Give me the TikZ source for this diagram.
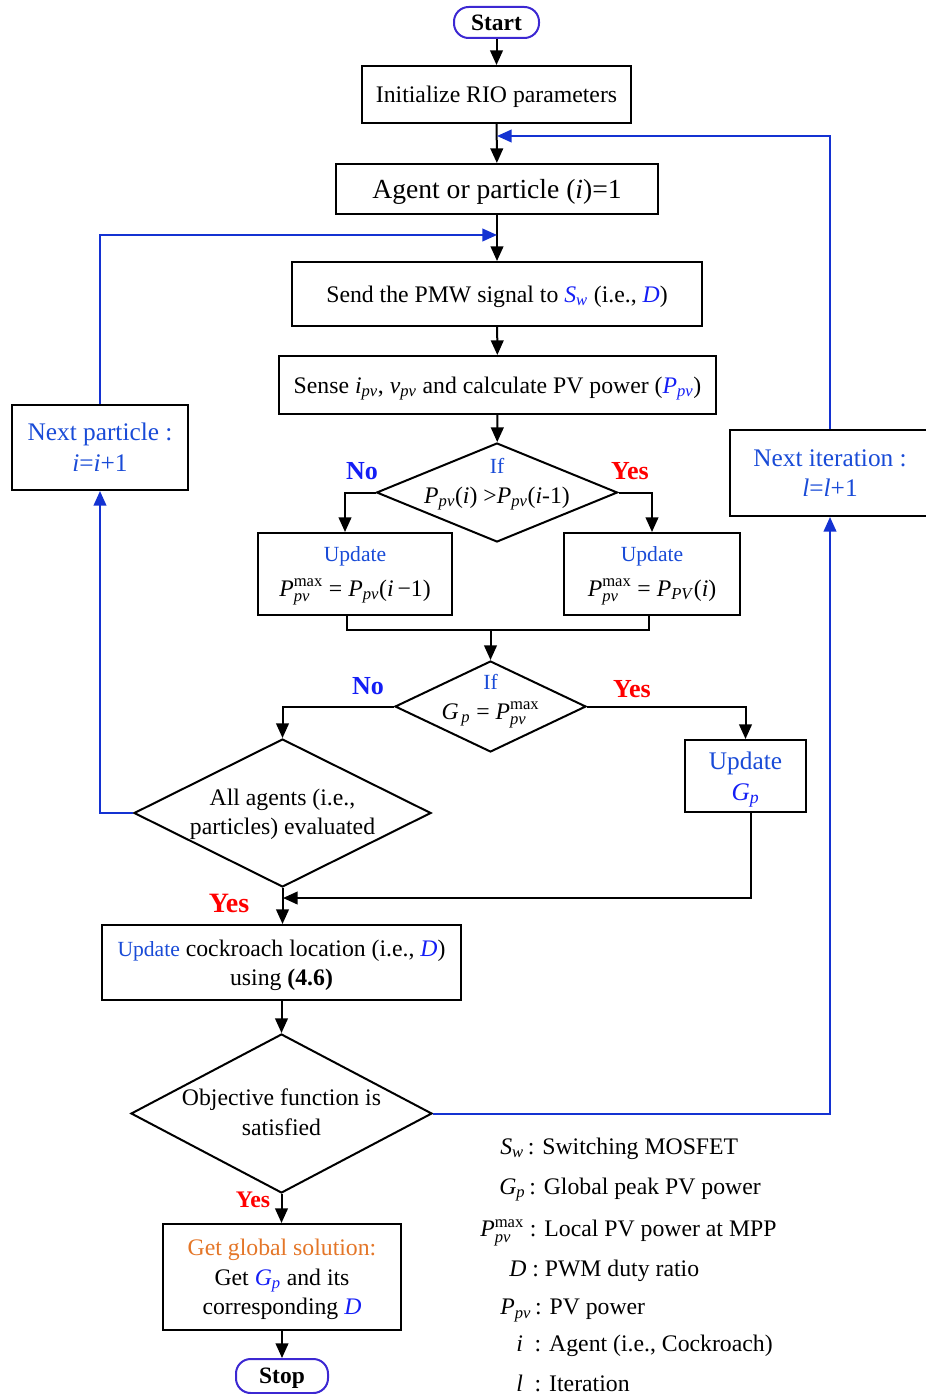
\documentclass[tikz,border=0pt]{standalone}
\usepackage{fontspec}
\setmainfont{Liberation Serif}
\usepackage{amsmath}
\usetikzlibrary{shapes.geometric,arrows.meta,calc}
\definecolor{tblue}{RGB}{25,75,215}
\definecolor{mblue}{RGB}{20,30,245}
\definecolor{lblue}{RGB}{20,50,210}
\definecolor{sblue}{RGB}{60,40,210}
\definecolor{ored}{RGB}{255,0,0}
\definecolor{orng}{RGB}{228,118,40}
\newcommand{\fsB}{\fontsize{17.8pt}{22pt}\selectfont}
\newcommand{\fsA}{\fontsize{20.7pt}{25pt}\selectfont}
\newcommand{\fsN}{\fontsize{19pt}{23pt}\selectfont}
\newcommand{\fsU}{\fontsize{16.2pt}{20pt}\selectfont}
\newcommand{\fsY}{\fontsize{19.5pt}{23pt}\selectfont}
\newcommand{\fsYY}{\fontsize{21pt}{25pt}\selectfont}
\newcommand{\fsS}{\fontsize{17.6pt}{21pt}\selectfont}
\newcommand{\Ppv}{\textit{P}\textsubscript{\textit{pv}}}
\newcommand{\Pmx}{$\textit{P}^{\textrm{max}}_{\textit{pv}}$}
\begin{document}
\begin{tikzpicture}[x=0.75pt,y=-0.75pt,
  every node/.style={font=\fsB, inner sep=0pt, text depth=0pt},
  bx/.style 2 args={draw, line width=1.5pt, minimum width=#1*0.75pt, minimum height=#2*0.75pt, align=center},
  dm/.style 2 args={draw, diamond, line width=1.5pt, minimum width=#1*0.75pt, minimum height=#2*0.75pt},
  term/.style 2 args={draw=sblue, line width=1.5pt, rounded corners=11pt, minimum width=#1*0.75pt, minimum height=#2*0.75pt, font=\fsS\bfseries},
  conn/.style={line width=1.5pt, -{Triangle[length=11pt,width=9.5pt]}},
  ln/.style={line width=1.5pt},
  bconn/.style={conn, color=lblue},
  yes/.style={text=ored, font=\fsY\bfseries},
  no/.style={text=mblue, font=\fsY\bfseries},
  txt/.style={align=center}
]
\useasboundingbox (0,0) rectangle (925,1394);

% nodes
\node[term={85}{31}] (start) at (496.5,22.5) {Start};
\node[bx={269}{57}] (init) at (496.5,94.5) {Initialize RIO parameters};
\node[bx={322}{50}, font=\fsA] (agent) at (497,189) {Agent or particle (\textit{i})=1};
\node[bx={410}{64}] (send) at (497,294) {Send the PMW signal to \textcolor{mblue}{\textit{S}\textsubscript{\textit{w}}} (i.e., \textcolor{mblue}{\textit{D}})};
\node[bx={437}{58}] (sense) at (497.5,385) {Sense \textit{i}\textsubscript{\textit{pv}}, \textit{v}\textsubscript{\textit{pv}} and calculate PV power (\textcolor{mblue}{\Ppv})};
\node[dm={241}{99}] (d1) at (497,492.5) {};
\node[txt] (d1t) at (497,481) {{\color{tblue}\fsU If}\\ \Ppv(\textit{i}) >\Ppv(\textit{i}-1)};
\node[bx={194}{82}, text depth=4pt] (updL) at (355,574) {{\color{tblue}\fsU Update}\\[4pt] \Pmx{} = \Ppv(\textit{i}\,−1)};
\node[bx={176}{82}, text depth=4pt] (updR) at (652,574) {{\color{tblue}\fsU Update}\\[4pt] \Pmx{} = \textit{P}\textsubscript{\textit{PV}}(\textit{i})};
\node[dm={191}{91}] (d2) at (490.5,706.5) {};
\node[txt] (d2t) at (490.5,697) {{\color{tblue}\fsU If}\\ $\textit{G}_{\,\textit{p}}$ = \Pmx};
\node[dm={297}{148}] (d3) at (282.5,813) {};
\node[txt] (d3t) at (282.5,812) {All agents (i.e.,\\ particles) evaluated};
\node[bx={121}{72}, font=\fsN, text=tblue] (updG) at (745.5,776) {Update\\ \textcolor{mblue}{\textit{G}\textsubscript{\textit{p}}}};
\node[bx={176}{85}, font=\fsN, text=tblue] (nextP) at (100,447.5) {Next particle :\\ \textit{i}=\textit{i}+1};
\node[bx={200}{86}, font=\fsN, text=tblue] (nextI) at (830,473) {Next iteration :\\ \textit{l}=\textit{l}+1};
\node[bx={359}{75}] (cock) at (281.5,962.5) {{\color{tblue}\fsU Update} cockroach location (i.e., \textcolor{mblue}{\textit{D}})\\ using \textbf{(4.6)}};
\node[dm={301}{159}] (d4) at (281.5,1113.5) {};
\node[txt] (d4t) at (281.5,1112) {Objective function is\\ satisfied};
\node[bx={238}{106}] (glob) at (282,1277) {\textcolor{orng}{Get global solution:}\\ Get \textcolor{mblue}{\textit{G}\textsubscript{\textit{p}}} and its\\ corresponding \textcolor{mblue}{\textit{D}}};
\node[term={92}{34}] (stop) at (282,1376) {Stop};

% junctions
\coordinate (j1) at (497,136);
\coordinate (j2) at (497,235);
\coordinate (m) at (490.5,630);
\coordinate (j3) at (283,898);

% connectors
\draw[conn] (start) -- (init);
\draw[conn] (init) -- (agent);
\draw[bconn] (nextI.north) |- (j1);
\draw[conn] (agent) -- (send);
\draw[bconn] (nextP.north) |- (j2);
\draw[conn] (send) -- (sense);
\draw[conn] (sense) -- (d1);
\draw[conn] (d1.west) -| ($(updL.north)+(-10,0)$);
\draw[conn] (d1.east) -| (updR.north);
\draw[ln] ($(updL.south)+(-8,0)$) |- (m);
\draw[ln] ($(updR.south)+(-3,0)$) |- (m);
\draw[conn] (m) -- (d2.north);
\draw[conn] (d2.west) -| (d3.north);
\draw[conn] (d2.east) -| (updG.north);
\draw[bconn] (d3.west) -| (nextP.south);
\draw[conn] ($(updG.south)+(5,0)$) |- (j3);
\draw[conn] (d3.south) -- (d3.south |- cock.north);
\draw[conn] (cock.south) -- (cock.south |- d4.north);
\draw[bconn] (d4.east) -| (nextI.south);
\draw[conn] (d4.south) -- (d4.south |- glob.north);
\draw[conn] (glob) -- (stop);

% branch labels
\node[no] (no1) at (362,471) {No};
\node[yes] (yes1) at (630,471) {Yes};
\node[no] (no2) at (368,686) {No};
\node[yes] (yes2) at (632,689) {Yes};
\node[yes, font=\fsYY\bfseries] (yes3) at (229,903) {Yes};
\node[yes, font=\fsB\bfseries] (yes4) at (253,1200) {Yes};

% legend
\node[anchor=west] (lg1) at (500,1146) {\textit{S}\textsubscript{\textit{w}}\,: Switching MOSFET};
\node[anchor=west] (lg2) at (499,1186) {\textit{G}\textsubscript{\textit{p}}\,: Global peak PV power};
\node[anchor=west] (lg3) at (480,1228) {\Pmx\ : Local PV power at MPP};
\node[anchor=west] (lg4) at (509,1268) {\textit{D} : PWM duty ratio};
\node[anchor=west] (lg5) at (500,1307) {\Ppv\,: PV power};
\node[anchor=west] (lg6) at (516,1343) {\textit{i}\ \ : Agent (i.e., Cockroach)};
\node[anchor=west] (lg7) at (516,1383) {\textit{l}\ \ : Iteration};
\end{tikzpicture}
\end{document}
